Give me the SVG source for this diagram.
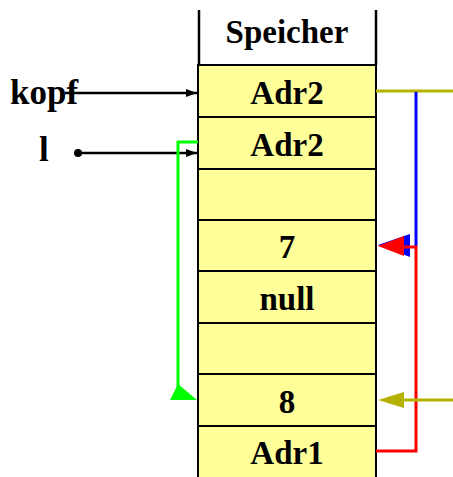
<svg xmlns="http://www.w3.org/2000/svg" width="453" height="477" viewBox="0 0 453 477">
<style>
.cell{fill:#FFFF99;stroke:#000;stroke-width:2}
.t{font-family:"Liberation Serif",serif;font-weight:bold;font-size:33px;text-anchor:middle;fill:#000}
.lbl{font-family:"Liberation Serif",serif;font-weight:bold;font-size:35px;fill:#000}
</style>
<defs>
<marker id="ab" markerWidth="12" markerHeight="10" refX="11" refY="5" orient="auto" markerUnits="userSpaceOnUse"><path d="M0,1 L11,5 L0,9 Z" fill="#000"/></marker>
</defs>
<rect width="453" height="477" fill="#fff"/>
<g id="header">
<line x1="199" y1="10" x2="199" y2="65" stroke="#000" stroke-width="2.5"/>
<line x1="376" y1="10" x2="376" y2="65" stroke="#000" stroke-width="2.5"/>
<text class="t" x="287" y="43">Speicher</text>
</g>
<g id="cell1"><rect class="cell" x="198" y="65" width="178" height="52"/><text class="t" x="287" y="104">Adr2</text></g>
<g id="cell2"><rect class="cell" x="198" y="117" width="178" height="52"/><text class="t" x="287" y="156">Adr2</text></g>
<g id="cell3"><rect class="cell" x="198" y="169" width="178" height="51"/></g>
<g id="cell4"><rect class="cell" x="198" y="220" width="178" height="51"/><text class="t" x="287" y="258">7</text></g>
<g id="cell5"><rect class="cell" x="198" y="271" width="178" height="52"/><text class="t" x="287" y="310">null</text></g>
<g id="cell6"><rect class="cell" x="198" y="323" width="178" height="51"/></g>
<g id="cell7"><rect class="cell" x="198" y="374" width="178" height="52"/><text class="t" x="287" y="413">8</text></g>
<g id="cell8"><rect class="cell" x="198" y="426" width="178" height="52"/><text class="t" x="287" y="464">Adr1</text></g>
<g id="kopf"><text class="lbl" x="10" y="104">kopf</text></g>
<g id="l"><text class="lbl" x="39" y="161">l</text></g>
<g id="connectors">
<line x1="65" y1="93" x2="197" y2="93" stroke="#000" stroke-width="2.5" marker-end="url(#ab)"/>
<circle cx="78" cy="153" r="4" fill="#000"/>
<line x1="78" y1="153" x2="197" y2="153" stroke="#000" stroke-width="2.5" marker-end="url(#ab)"/>
<polyline points="198,142 178,142 178,392" fill="none" stroke="#00FF00" stroke-width="3"/>
<polygon points="178,384 197,400 170,400" fill="#00FF00"/>
<line x1="376" y1="91" x2="453" y2="91" stroke="#B3B300" stroke-width="3"/>
<line x1="416" y1="92" x2="416" y2="246" stroke="#0000FF" stroke-width="3"/>
<polygon points="378,245 410,234 410,257" fill="#0000FF"/>
<polyline points="376,451 416,451 416,247 404,247" fill="none" stroke="#FF0000" stroke-width="3"/>
<polygon points="378,246 404,236 404,256" fill="#FF0000"/>
<line x1="453" y1="400" x2="402" y2="400" stroke="#B3B300" stroke-width="3"/>
<polygon points="378,400 404,392 404,408" fill="#B3B300"/>
</g>
</svg>
